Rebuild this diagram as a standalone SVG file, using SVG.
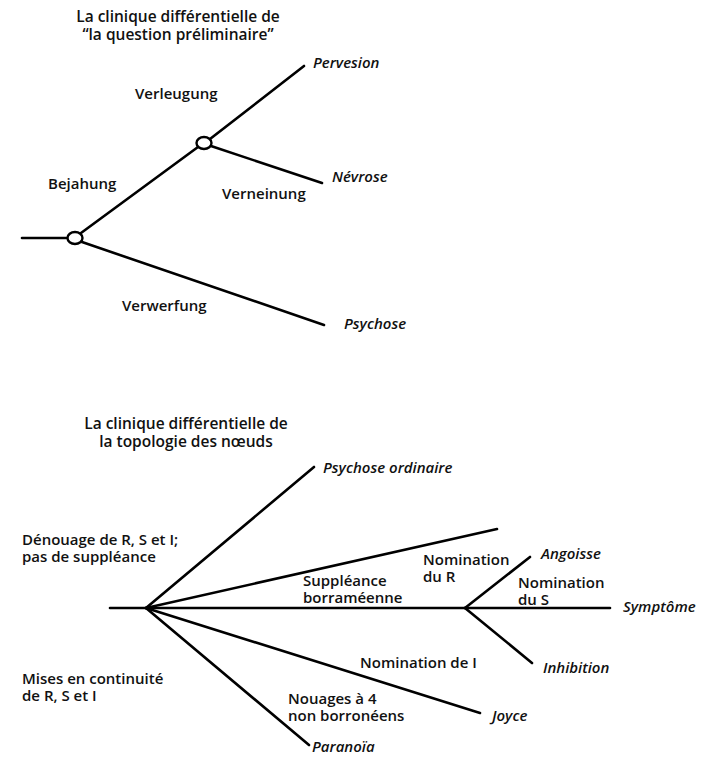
<svg xmlns="http://www.w3.org/2000/svg" width="709" height="767" viewBox="0 0 709 767">
<style>
text{font-family:"Open Sans","Liberation Sans",sans-serif;font-size:15px;font-weight:600;fill:#111}
.t{font-size:15.5px}
.i{font-style:italic}
.l{stroke:#000;stroke-width:2.6;fill:none;stroke-linecap:round}
.c{stroke:#000;stroke-width:2.4;fill:#fff}
</style>
<rect width="709" height="767" fill="#fff"/>
<g id="connectors">
<line class="l" x1="22" y1="238" x2="68" y2="238"/>
<line class="l" x1="81" y1="233" x2="198" y2="147"/>
<line class="l" x1="210" y1="139" x2="304" y2="66"/>
<line class="l" x1="211" y1="146" x2="322" y2="183"/>
<line class="l" x1="82" y1="242" x2="324" y2="325"/>
<line class="l" x1="110" y1="608" x2="610" y2="608"/>
<line class="l" x1="146" y1="608" x2="314" y2="467"/>
<line class="l" x1="146" y1="608" x2="497" y2="529"/>
<line class="l" x1="146" y1="608" x2="480" y2="713"/>
<line class="l" x1="146" y1="608" x2="309" y2="745"/>
<line class="l" x1="465" y1="608" x2="530" y2="557"/>
<line class="l" x1="465" y1="608" x2="532" y2="663"/>
</g>
<g id="title1"><text class="t" x="178" y="22" text-anchor="middle">La clinique différentielle de</text><text class="t" x="178" y="40" text-anchor="middle">“la question préliminaire”</text></g>
<g id="node-bejahung-hub"><ellipse class="c" cx="75" cy="238" rx="7.5" ry="6"/></g>
<g id="node-verleugung-hub"><ellipse class="c" cx="204" cy="143" rx="7.5" ry="6"/></g>
<g id="lbl-pervesion"><text class="i" x="313" y="68">Pervesion</text></g>
<g id="lbl-verleugung"><text x="135" y="99">Verleugung</text></g>
<g id="lbl-bejahung"><text x="48" y="189">Bejahung</text></g>
<g id="lbl-nevrose"><text class="i" x="332" y="182">Névrose</text></g>
<g id="lbl-verneinung"><text x="222" y="199">Verneinung</text></g>
<g id="lbl-verwerfung"><text x="122" y="311">Verwerfung</text></g>
<g id="lbl-psychose"><text class="i" x="344" y="329">Psychose</text></g>
<g id="title2"><text class="t" x="186" y="429" text-anchor="middle">La clinique différentielle de</text><text class="t" x="186" y="447" text-anchor="middle">la topologie des nœuds</text></g>
<g id="lbl-psychose-ordinaire"><text class="i" x="323" y="473">Psychose ordinaire</text></g>
<g id="lbl-denouage"><text x="22" y="545">Dénouage de R, S et I;</text><text x="22" y="562">pas de suppléance</text></g>
<g id="lbl-nomination-r"><text x="423" y="565">Nomination</text><text x="423" y="582">du R</text></g>
<g id="lbl-suppleance"><text x="303" y="586">Suppléance</text><text x="303" y="603">borraméenne</text></g>
<g id="lbl-angoisse"><text class="i" x="541" y="559">Angoisse</text></g>
<g id="lbl-nomination-s"><text x="518" y="588">Nomination</text><text x="518" y="605">du S</text></g>
<g id="lbl-symptome"><text class="i" x="623" y="612">Symptôme</text></g>
<g id="lbl-inhibition"><text class="i" x="543" y="673">Inhibition</text></g>
<g id="lbl-nomination-i"><text x="360" y="668">Nomination de I</text></g>
<g id="lbl-mises"><text x="22" y="684">Mises en continuité</text><text x="22" y="701">de R, S et I</text></g>
<g id="lbl-nouages"><text x="288" y="704">Nouages à 4</text><text x="288" y="721">non borronéens</text></g>
<g id="lbl-joyce"><text class="i" x="492" y="721">Joyce</text></g>
<g id="lbl-paranoia"><text class="i" x="312" y="752">Paranoïa</text></g>
</svg>
